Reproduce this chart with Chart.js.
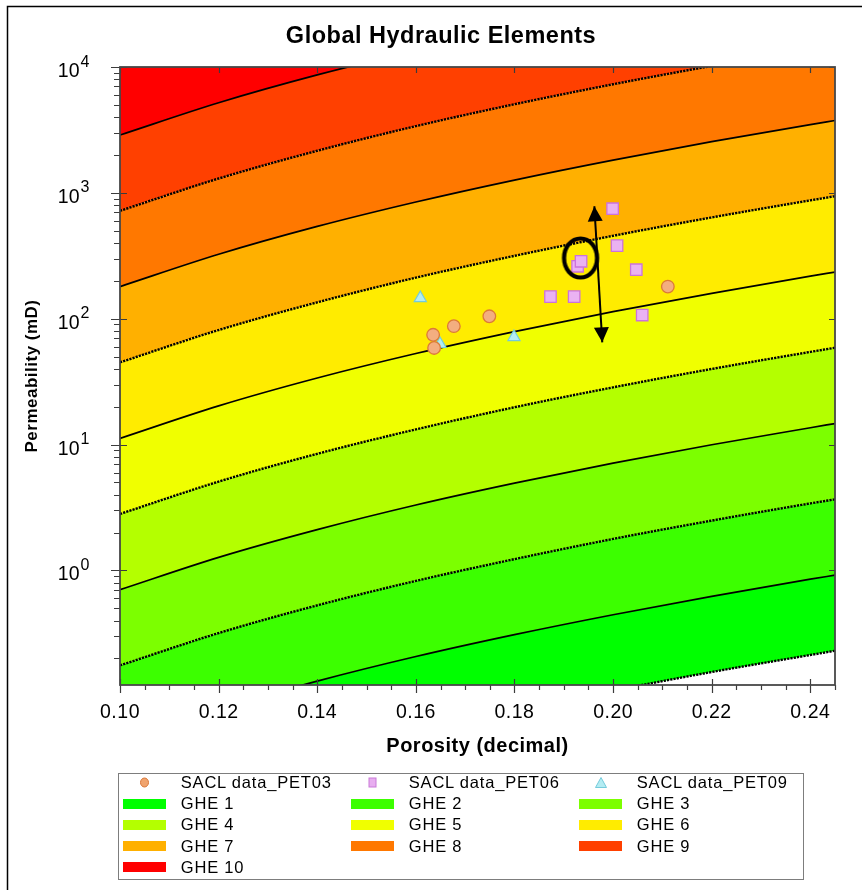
<!DOCTYPE html>
<html>
<head>
<meta charset="utf-8">
<title>Global Hydraulic Elements</title>
<script src="https://cdn.jsdelivr.net/npm/chart.js@4.4.1/dist/chart.umd.min.js"></script>
<style>
  html, body { margin: 0; padding: 0; background: #fff; }
  #wrap { position: relative; width: 862px; height: 890px; overflow: hidden; }
  #gheChart { position: absolute; left: 0; top: 0; }
  #legend {
    position: absolute; left: 118px; top: 773px; width: 686px; height: 107px;
    box-sizing: border-box; border: 1.5px solid #7d7d7d;
    font-family: "Liberation Sans", Arial, sans-serif; font-size: 16.5px;
    letter-spacing: 0.8px; color: #000;
  }
  .item { position: absolute; width: 228px; height: 21px; }
  .item .key { position: absolute; left: 0; top: 0; width: 43px; height: 21px; }
  .item .sw { position: absolute; left: 0; top: 5.5px; width: 43px; height: 10px; }
  .item svg { position: absolute; left: 16px; top: 5px; }
  .item span { position: absolute; left: 58px; top: 0; line-height: 21px; white-space: nowrap; }
</style>
</head>
<body>
<div id="wrap">
  <canvas id="gheChart" width="862" height="890"></canvas>
  <div id="legend"></div>
</div>
<script>
// Límites de cada GHE (permeabilidad mD en cada porosidad)
const phiGrid = [0.10, 0.12, 0.14, 0.16, 0.18, 0.20, 0.22, 0.24, 0.245];
const kLimit0 = [0.011, 0.0199, 0.033, 0.0517, 0.0772, 0.111, 0.156, 0.213, 0.230];   // base GHE 1 (punteada)
const kLimit1 = [0.044, 0.079, 0.132, 0.207, 0.309, 0.445, 0.623, 0.852, 0.918];
const kLimit2 = [0.176, 0.318, 0.528, 0.826, 1.23, 1.78, 2.49, 3.41, 3.67];
const kLimit3 = [0.703, 1.27, 2.11, 3.31, 4.94, 7.12, 9.97, 13.6, 14.7];
const kLimit4 = [2.81, 5.08, 8.45, 13.2, 19.8, 28.5, 39.9, 54.5, 58.8];
const kLimit5 = [11.2, 20.3, 33.8, 52.9, 79.0, 114, 159, 218, 235];
const kLimit6 = [45.0, 81.3, 135, 212, 316, 456, 638, 872, 940];
const kLimit7 = [180, 325, 541, 846, 1264, 1822, 2551, 3489, 3760];
const kLimit8 = [720, 1300, 2160, 3390, 5060, 7290, 10200, 13950, 15000];
const kLimit9 = [2880, 5200, 8650, 13500, 20200, 29200, 40800, 55800, 60200];

const gheNames = ['GHE 1', 'GHE 2', 'GHE 3', 'GHE 4', 'GHE 5', 'GHE 6', 'GHE 7', 'GHE 8', 'GHE 9', 'GHE 10'];
const gheColors = ['#00ff00', '#3cff00', '#7cff00', '#b4ff00', '#f0ff00', '#ffec00', '#ffb000', '#ff7800', '#ff4000', '#ff0000'];

// Muestras SACL
const seriesNames = ['SACL data_PET03', 'SACL data_PET06', 'SACL data_PET09'];
const pet03Phi = [0.1635, 0.1637, 0.1677, 0.1749, 0.2111];
const pet03K   = [74.5, 58.6, 87.3, 104.5, 180];
const pet06Phi = [0.1928, 0.1935, 0.1999, 0.2008, 0.2047, 0.1873, 0.1921, 0.2059];
const pet06K   = [261, 286, 748, 381, 245, 150, 150, 107];
const pet09Phi = [0.1609, 0.1649, 0.1799];
const pet09K   = [146, 63, 71.5];

// Anotaciones (círculo y flecha doble)
const circlePhi = [0.1934];
const circleK   = [304];
const arrowPhi  = [0.1962, 0.1978];
const arrowK    = [782, 64.9];

// Ticks
const xMajorTicks = [0.10, 0.12, 0.14, 0.16, 0.18, 0.20, 0.22, 0.24];
const yDecades = [1, 10, 100, 1000, 10000];

const FONT = '"Liberation Sans", Arial, Helvetica, sans-serif';
const toXY = (xs, ys) => xs.map((x, i) => ({ x, y: ys[i] }));
const limits = [kLimit0, kLimit1, kLimit2, kLimit3, kLimit4, kLimit5, kLimit6, kLimit7, kLimit8, kLimit9];

// Bandas: cada límite rellena hasta el anterior
const bandSets = limits.map((arr, i) => ({
  label: i === 0 ? 'GHE 1 base' : gheNames[i - 1],
  data: toXY(phiGrid, arr),
  borderColor: '#000',
  borderWidth: i % 2 === 0 ? 2.4 : 1.7,
  borderDash: i % 2 === 0 ? [2.2, 1.1] : [],
  backgroundColor: i === 0 ? 'rgba(0,0,0,0)' : gheColors[i - 1],
  fill: i === 0 ? false : '-1',
  pointRadius: 0,
  cubicInterpolationMode: 'monotone',
  order: 20
}));
bandSets.push({
  label: gheNames[9],
  data: toXY(phiGrid, kLimit9),
  borderColor: 'rgba(0,0,0,0)',
  borderWidth: 0,
  backgroundColor: gheColors[9],
  fill: 'end',
  pointRadius: 0,
  cubicInterpolationMode: 'monotone',
  order: 21
});

// Elipse para el círculo marcado
function makeRing() {
  const c = document.createElement('canvas');
  c.width = 42; c.height = 48;
  const g = c.getContext('2d');
  g.strokeStyle = '#000';
  g.lineWidth = 4.2;
  g.beginPath();
  g.ellipse(21, 24, 16.5, 19.5, 0, 0, Math.PI * 2);
  g.stroke();
  return c;
}

const pointSets = [
  { label: seriesNames[2], data: toXY(pet09Phi, pet09K), showLine: false, pointStyle: 'triangle',
    pointRadius: 7, backgroundColor: '#b4ecf2', borderColor: '#74cbdb', borderWidth: 1.2, order: 5 },
  { label: seriesNames[0], data: toXY(pet03Phi, pet03K), showLine: false, pointStyle: 'circle',
    pointRadius: 6.3, backgroundColor: '#f3ae80', borderColor: '#dc7a37', borderWidth: 1.3, order: 4 },
  { label: seriesNames[1], data: toXY(pet06Phi, pet06K), showLine: false, pointStyle: 'rect',
    pointRadius: 8.1, backgroundColor: '#eab2f2', borderColor: '#cc72dc', borderWidth: 1.3, order: 3 },
  { label: 'ring', data: toXY(circlePhi, circleK), showLine: false, pointStyle: makeRing(),
    pointRadius: 20, order: 1 },
  { label: 'arrow', data: toXY(arrowPhi, arrowK), showLine: true, borderColor: '#000',
    borderWidth: 2, pointRadius: 0, fill: false, order: 0 }
];
const ARROW_INDEX = bandSets.length + pointSets.length - 1;

// Marco, ticks, etiquetas del eje y, título y puntas de flecha
const decor = {
  id: 'decor',
  beforeDraw(chart) {
    const ctx = chart.ctx;
    ctx.letterSpacing = '0.5px';
    ctx.save();
    ctx.strokeStyle = '#000';
    ctx.lineWidth = 1.5;
    ctx.beginPath();
    ctx.moveTo(7.5, 900); ctx.lineTo(7.5, 6.5); ctx.lineTo(900, 6.5);
    ctx.stroke();
    ctx.restore();
  },
  afterDatasetsDraw(chart) {
    const ctx = chart.ctx;
    const pts = chart.getDatasetMeta(ARROW_INDEX).data;
    if (pts.length < 2) return;
    const head = (tx, ty, fx, fy) => {
      const a = Math.atan2(ty - fy, tx - fx), L = 15, W = 7.5;
      const c = Math.cos(a), s = Math.sin(a);
      ctx.beginPath();
      ctx.moveTo(tx, ty);
      ctx.lineTo(tx - L * c + W * s, ty - L * s - W * c);
      ctx.lineTo(tx - L * c - W * s, ty - L * s + W * c);
      ctx.closePath();
      ctx.fill();
    };
    ctx.save();
    ctx.fillStyle = '#000';
    head(pts[0].x, pts[0].y, pts[1].x, pts[1].y);
    head(pts[1].x, pts[1].y, pts[0].x, pts[0].y);
    ctx.restore();
  },
  afterDraw(chart) {
    const ctx = chart.ctx;
    const { left, right, top, bottom } = chart.chartArea;
    const xs = chart.scales.x, ys = chart.scales.y;
    const seg = (x1, y1, x2, y2) => { ctx.moveTo(x1, y1); ctx.lineTo(x2, y2); };

    ctx.save();
    ctx.strokeStyle = '#3c3c3c';
    ctx.lineWidth = 1.2;
    ctx.beginPath();
    // x
    for (let i = 0; 0.10 + i * 0.005 <= 0.2451; i++) {
      const px = Math.round(xs.getPixelForValue(0.10 + i * 0.005)) + 0.5;
      if (i % 4 === 0) {
        seg(px, bottom - 6, px, bottom + 8);
        seg(px, top, px, top + 6);
      } else {
        seg(px, bottom, px, bottom + 5);
      }
    }
    // y
    for (let e = -1; e <= 4; e++) {
      const d = Math.pow(10, e);
      if (d >= ys.min && d <= ys.max) {
        const py = Math.round(ys.getPixelForValue(d)) + 0.5;
        seg(left - 9, py, left + 7, py);
        seg(right - 6, py, right, py);
      }
      for (let m = 2; m <= 9; m++) {
        const v = m * d;
        if (v < ys.min || v > ys.max) continue;
        const py = Math.round(ys.getPixelForValue(v)) + 0.5;
        seg(left - 6, py, left, py);
      }
    }
    ctx.stroke();

    // marco del área
    ctx.strokeStyle = '#474747';
    ctx.lineWidth = 1.8;
    ctx.strokeRect(left, top, right - left, bottom - top);

    // etiquetas 10^n
    ctx.letterSpacing = '0.3px';
    ctx.fillStyle = '#000';
    yDecades.forEach(v => {
      const py = ys.getPixelForValue(v);
      const ex = String(Math.round(Math.log10(v)));
      ctx.font = '19.5px ' + FONT;
      ctx.textAlign = 'right';
      ctx.textBaseline = 'alphabetic';
      ctx.fillText('10', 80, py + 10);
      ctx.font = '16px ' + FONT;
      ctx.textAlign = 'left';
      ctx.fillText(ex, 80.5, py - 0.5);
    });

    // título
    ctx.letterSpacing = '0.5px';
    ctx.font = 'bold 23.5px ' + FONT;
    ctx.textAlign = 'center';
    ctx.textBaseline = 'middle';
    ctx.fillText('Global Hydraulic Elements', 441, 37);
    ctx.restore();
  }
};

new Chart(document.getElementById('gheChart'), {
  type: 'line',
  data: { datasets: [...bandSets, ...pointSets] },
  options: {
    responsive: false,
    animation: false,
    events: [],
    layout: { padding: { left: 0, right: 27, top: 67, bottom: 125 } },
    plugins: {
      legend: { display: false },
      title: { display: false },
      tooltip: { enabled: false },
      filler: { drawTime: 'beforeDatasetsDraw' }
    },
    scales: {
      x: {
        type: 'linear',
        min: 0.10,
        max: 0.245,
        afterBuildTicks: s => { s.ticks = xMajorTicks.map(v => ({ value: v })); },
        afterFit: s => { s.height = 80; },
        grid: { display: false, drawTicks: false },
        border: { display: false },
        ticks: {
          autoSkip: false, maxRotation: 0, padding: 16, color: '#000',
          font: { family: FONT, size: 19.5 },
          callback: v => Number(v).toFixed(2)
        },
        title: {
          display: true, text: 'Porosity (decimal)', color: '#000',
          font: { family: FONT, size: 20, weight: 'bold' },
          padding: { top: 0, bottom: 7 }
        }
      },
      y: {
        type: 'logarithmic',
        min: 0.123,
        max: 10000,
        afterFit: s => { s.width = 120; },
        grid: { display: false, drawTicks: false },
        border: { display: false },
        ticks: { display: false },
        title: {
          display: true, text: 'Permeability (mD)', color: '#000',
          font: { family: FONT, size: 17, weight: 'bold' },
          padding: { top: 22, bottom: 0 }
        }
      }
    }
  },
  plugins: [decor]
});

// Leyenda en 3 columnas
const legendEntries = [
  { text: seriesNames[0], marker: 'circle' },
  { text: seriesNames[1], marker: 'square' },
  { text: seriesNames[2], marker: 'triangle' },
  ...gheNames.map((n, i) => ({ text: n, color: gheColors[i] }))
];
const markerSvg = {
  circle: '<svg width="11" height="11"><ellipse cx="5.5" cy="5.5" rx="4" ry="4.5" fill="#f0a46e" stroke="#d9783a" stroke-width="1"/></svg>',
  square: '<svg width="11" height="11"><rect x="2" y="1" width="7" height="9" fill="#e8aef0" stroke="#c97ad8" stroke-width="1"/></svg>',
  triangle: '<svg width="12" height="11" style="left:16px"><polygon points="6,0.5 11.5,10.5 0.5,10.5" fill="#b4ecf2" stroke="#74cbdb" stroke-width="1"/></svg>'
};
const legendBox = document.getElementById('legend');
legendEntries.forEach((e, i) => {
  const col = i % 3, row = Math.floor(i / 3);
  const div = document.createElement('div');
  div.className = 'item';
  div.style.left = (3.8 + col * 228) + 'px';
  div.style.top = (8.2 + row * 21.3 - 10.5) + 'px';
  const key = e.marker ? markerSvg[e.marker]
    : `<div class="sw" style="background:${e.color}"></div>`;
  div.innerHTML = `<div class="key">${key}</div><span>${e.text}</span>`;
  legendBox.appendChild(div);
});
</script>
</body>
</html>
